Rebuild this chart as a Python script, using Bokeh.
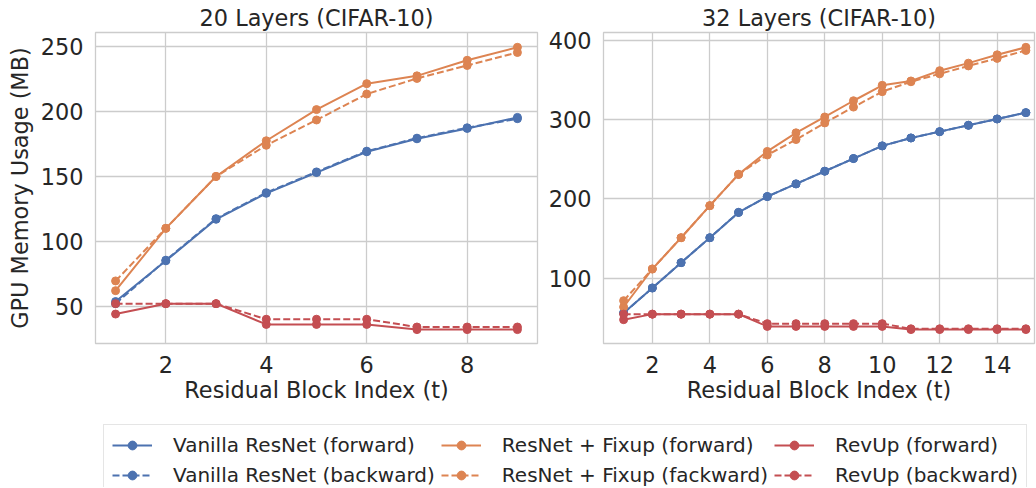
from bokeh.plotting import figure
from bokeh.models import FixedTicker, Range1d, Legend, LegendItem
from bokeh.layouts import column, row
from bokeh.embed import file_html
from bokeh.resources import INLINE

# ---------------- data ----------------
blocks_20 = [1, 2, 3, 4, 5, 6, 7, 8, 9]
vanilla_fwd_20 = [53.6, 85, 117, 137, 153, 169, 179, 187, 195.5]
vanilla_bwd_20 = [52, 85.5, 117.5, 137.5, 153.5, 169.5, 179.5, 187.5, 194.5]
fixup_fwd_20 = [62, 110, 150, 177.5, 201.5, 221.5, 227.5, 239.5, 249.5]
fixup_bwd_20 = [69.5, 110, 150, 174, 193.5, 213.5, 225.5, 235.5, 245.5]
revup_fwd_20 = [44, 52, 52, 36, 36, 36, 32, 32, 32]
revup_bwd_20 = [52, 52, 52, 40, 40, 40, 34, 34, 34]

blocks_32 = [1, 2, 3, 4, 5, 6, 7, 8, 9, 10, 11, 12, 13, 14, 15]
vanilla_fwd_32 = [56, 87.5, 119.5, 151, 183, 203, 219, 235, 251, 267, 277, 285, 293, 301, 309]
vanilla_bwd_32 = [56, 87.5, 119.5, 151, 183, 203, 219, 235, 251, 267, 277, 285, 293, 301, 309]
fixup_fwd_32 = [63.5, 111.5, 151, 191.5, 231, 260, 283.5, 303.5, 324, 343.5, 349, 362, 371.5, 382, 391.5]
fixup_bwd_32 = [71.5, 111.5, 151, 191.5, 231, 255.5, 275, 296, 316, 335.5, 348, 358, 368, 377.5, 387.5]
revup_fwd_32 = [47.5, 54.5, 54.5, 54.5, 54.5, 39, 39, 39, 39, 39, 35, 35, 35, 35, 35]
revup_bwd_32 = [54.5, 54.5, 54.5, 54.5, 54.5, 42.5, 42.5, 42.5, 42.5, 42.5, 36, 36, 36, 36, 36]

series_labels = ["Vanilla ResNet (forward)", "Vanilla ResNet (backward)",
                 "ResNet + Fixup (forward)", "ResNet + Fixup (fackward)",
                 "RevUp (forward)", "RevUp (backward)"]
titles = ["20 Layers (CIFAR-10)", "32 Layers (CIFAR-10)"]
xlabel = "Residual Block Index (t)"
ylabel = "GPU Memory Usage (MB)"
xticks_20 = [2, 4, 6, 8]
yticks_20 = [50, 100, 150, 200, 250]
xticks_32 = [2, 4, 6, 8, 10, 12, 14]
yticks_32 = [100, 200, 300, 400]

BLUE, ORANGE, RED = "#4C72B0", "#DD8452", "#C44E52"
colors = [BLUE, BLUE, ORANGE, ORANGE, RED, RED]
dashes = ["solid", "7 3", "solid", "7 3", "solid", "7 3"]
FONT = "DejaVu Sans"
TXT = "#262626"
GRID = "#cccccc"
FS = "22.4px"


def make_fig(title, xs, ys_list, xr, yr, xt, yt, width, height, bl, br, ylab):
    p = figure(width=width, height=height, x_range=Range1d(*xr), y_range=Range1d(*yr),
               output_backend="svg", toolbar_location=None,
               min_border_left=bl, min_border_right=br, min_border_top=0, min_border_bottom=0)
    p.title.text = title
    p.title.align = "center"
    p.title.text_font = FONT
    p.title.text_font_size = FS
    p.title.text_font_style = "normal"
    p.title.text_color = TXT
    p.title.standoff = 4
    p.xaxis.ticker = FixedTicker(ticks=xt)
    p.yaxis.ticker = FixedTicker(ticks=yt)
    for ax in p.axis:
        ax.axis_line_color = None
        ax.major_tick_line_color = None
        ax.minor_tick_line_color = None
        ax.major_tick_out = 0
        ax.major_tick_in = 0
        ax.minor_tick_out = 0
        ax.minor_tick_in = 0
        ax.major_label_text_font = FONT
        ax.major_label_text_font_size = FS
        ax.major_label_text_color = TXT
        ax.axis_label_text_font = FONT
        ax.axis_label_text_font_size = FS
        ax.axis_label_text_font_style = "normal"
        ax.axis_label_text_color = TXT
    p.xaxis.major_label_standoff = 12
    p.yaxis.major_label_standoff = 12
    p.xaxis.axis_label = xlabel
    p.xaxis.axis_label_standoff = 1
    if ylab:
        p.yaxis.axis_label = ylab
        p.yaxis.axis_label_standoff = 5
    p.grid.grid_line_color = GRID
    p.grid.grid_line_width = 1.3
    p.outline_line_color = GRID
    p.outline_line_width = 1.3
    p.background_fill_color = "white"
    p.border_fill_color = "white"
    for ys, c, d in zip(ys_list, colors, dashes):
        p.line(xs, ys, line_color=c, line_width=2, line_dash=d)
        p.scatter(xs, ys, size=8, fill_color=c, line_color=c)
    return p


p1 = make_fig(titles[0], blocks_20,
              [vanilla_fwd_20, vanilla_bwd_20, fixup_fwd_20, fixup_bwd_20, revup_fwd_20, revup_bwd_20],
              (0.6, 9.4), (21.3, 260.9), xticks_20, yticks_20, 540, 405, 95, 3, ylabel)
p2 = make_fig(titles[1], blocks_32,
              [vanilla_fwd_32, vanilla_bwd_32, fixup_fwd_32, fixup_bwd_32, revup_fwd_32, revup_bwd_32],
              (0.3, 15.3), (17.4, 410.2), xticks_32, yticks_32, 496, 405, 63, 2, None)

# legend figure
lp = figure(width=1036, height=82, x_range=Range1d(0, 1), y_range=Range1d(0, 1),
            output_backend="svg", toolbar_location=None,
            x_axis_location=None, y_axis_location=None, min_border=0)
lp.grid.visible = False
lp.outline_line_color = None
items = []
for lab, c, d in zip(series_labels, colors, dashes):
    r1 = lp.line([-10, -9], [-10, -9], line_color=c, line_width=2, line_dash=d)
    r2 = lp.scatter([-10], [-10], size=6, fill_color=c, line_color=c)
    items.append(LegendItem(label=lab, renderers=[r1, r2]))
leg = Legend(items=items, location=(103, -9), ncols=3, orientation="vertical",
             label_text_font=FONT, label_text_font_size="20px", label_text_color=TXT,
             glyph_width=40, glyph_height=22, label_standoff=21, spacing=6, padding=8,
             margin=0, border_line_color=GRID, border_line_width=1.3,
             background_fill_color="white", background_fill_alpha=1.0)
lp.add_layout(leg, "center")

layout = column(row(p1, p2), lp)
open("out.html", "w").write(file_html(layout, INLINE))
